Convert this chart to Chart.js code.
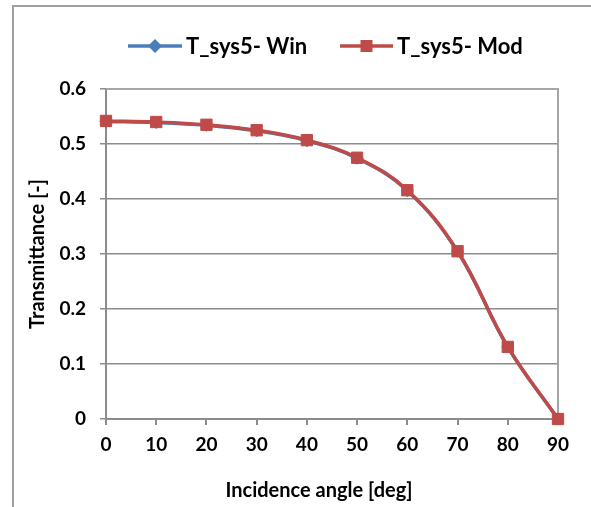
<!DOCTYPE html>
<html>
<head>
<meta charset="utf-8">
<script src="https://cdn.jsdelivr.net/npm/chart.js@4.4.1/dist/chart.umd.min.js"></script>
<style>
  html, body { margin: 0; padding: 0; background: #fff; }
  #wrap { position: relative; width: 591px; height: 507px; overflow: hidden; }
  #frame { position: absolute; left: 12px; top: 5px; width: 700px; height: 600px;
           border-left: 2px solid #a0a0a0; border-top: 2px solid #a0a0a0; box-sizing: border-box; }
  canvas { position: absolute; left: 0; top: 0; }
</style>
</head>
<body>
<div id="wrap">
  <div id="frame"></div>
  <canvas id="chart" width="591" height="507"></canvas>
</div>
<script>
const angles = [0, 10, 20, 30, 40, 50, 60, 70, 80, 90];
const winValues = [0.541, 0.539, 0.534, 0.524, 0.506, 0.474, 0.415, 0.305, 0.131, 0];
const modValues = [0.542, 0.540, 0.535, 0.525, 0.507, 0.475, 0.416, 0.305, 0.131, 0];
const seriesNames = ['T_sys5- Win', 'T_sys5- Mod'];
const yTicks = [0, 0.1, 0.2, 0.3, 0.4, 0.5, 0.6];
const xTitle = 'Incidence angle [deg]';
const yTitle = 'Transmittance [-]';

const FONT = 'Lato, "Open Sans", sans-serif';
const gridGray = '#8c8c8c';

const toPoints = vals => angles.map((a, i) => ({ x: a, y: vals[i] }));

// Excel-style legend: line with a marker in the middle
const lineLegend = {
  id: 'lineLegend',
  afterDraw(chart) {
    const ctx = chart.ctx;
    const y = 46;
    const slots = [{ x0: 128, x1: 182 }, { x0: 340, x1: 393 }];
    ctx.save();
    chart.data.datasets.forEach((ds, i) => {
      const s = slots[i];
      const mx = (s.x0 + s.x1) / 2;
      ctx.strokeStyle = ds.borderColor;
      ctx.lineWidth = 3.5;
      ctx.beginPath();
      ctx.moveTo(s.x0, y);
      ctx.lineTo(s.x1, y);
      ctx.stroke();
      ctx.fillStyle = ds.backgroundColor;
      ctx.beginPath();
      if (ds.pointStyle === 'rect') {
        ctx.rect(mx - 6, y - 6, 12, 12);
      } else {
        ctx.moveTo(mx, y - 7); ctx.lineTo(mx + 7, y); ctx.lineTo(mx, y + 7); ctx.lineTo(mx - 7, y);
        ctx.closePath();
      }
      ctx.fill();
      ctx.fillStyle = '#000';
      ctx.font = 'bold 22px ' + FONT;
      ctx.textBaseline = 'middle';
      ctx.textAlign = 'left';
      ctx.fillText(ds.label, s.x1 + 4, y + 1);
    });
    // x axis title sits a bit left of the plot centre, like the Excel original
    ctx.font = 'bold 20px ' + FONT;
    ctx.textAlign = 'center';
    ctx.textBaseline = 'middle';
    ctx.fillText(xTitle, 319, 491);
    ctx.restore();
  }
};

// plot area border (top and right)
const plotBorder = {
  id: 'plotBorder',
  beforeDatasetsDraw(chart) {
    const a = chart.chartArea;
    const ctx = chart.ctx;
    ctx.save();
    ctx.strokeStyle = '#a6a6a6';
    ctx.lineWidth = 2;
    ctx.beginPath();
    ctx.moveTo(a.left, a.top);
    ctx.lineTo(a.right, a.top);
    ctx.lineTo(a.right, a.bottom);
    ctx.stroke();
    ctx.restore();
  }
};

new Chart(document.getElementById('chart'), {
  type: 'line',
  data: {
    datasets: [
      {
        label: seriesNames[0],
        data: toPoints(winValues),
        borderColor: '#4a7ebb',
        backgroundColor: '#4a7ebb',
        borderWidth: 3.5,
        pointStyle: 'rectRot',
        pointRadius: 6,
        pointBorderWidth: 1,
        tension: 0.4,
        clip: false,
        order: 1
      },
      {
        label: seriesNames[1],
        data: toPoints(modValues),
        borderColor: '#be4b48',
        backgroundColor: '#be4b48',
        borderWidth: 3.5,
        pointStyle: 'rect',
        pointRadius: 8,
        pointBorderWidth: 1,
        tension: 0.4,
        clip: false,
        order: 0
      }
    ]
  },
  options: {
    responsive: false,
    animation: false,
    layout: { padding: { top: 89, right: 33, left: 0, bottom: 0 } },
    plugins: {
      legend: { display: false },
      tooltip: { enabled: false }
    },
    scales: {
      x: {
        type: 'linear',
        min: 0,
        max: 90,
        afterFit: s => { s.height = 88; },
        afterBuildTicks: s => { s.ticks = angles.map(v => ({ value: v })); },
        ticks: {
          color: '#000',
          font: { family: FONT, size: 19, weight: 'bold' },
          padding: 8
        },
        grid: { drawOnChartArea: false, drawTicks: true, tickLength: 6, color: gridGray, lineWidth: 2 },
        border: { color: gridGray, width: 2 },
        title: { display: false, text: xTitle }
      },
      y: {
        min: 0,
        max: 0.6,
        afterFit: s => { s.width = 106; },
        afterBuildTicks: s => { s.ticks = yTicks.map(v => ({ value: v })); },
        ticks: {
          color: '#000',
          font: { family: FONT, size: 19, weight: 'bold' },
          padding: 14,
          callback: v => String(+v.toFixed(1))
        },
        grid: { color: gridGray, lineWidth: 1.5, tickLength: 6 },
        border: { color: gridGray, width: 2 },
        title: {
          display: true,
          text: yTitle,
          color: '#000',
          font: { family: FONT, size: 20, weight: 'bold' },
          padding: { top: 26, bottom: 0 }
        }
      }
    }
  },
  plugins: [lineLegend, plotBorder]
});
</script>
</body>
</html>
